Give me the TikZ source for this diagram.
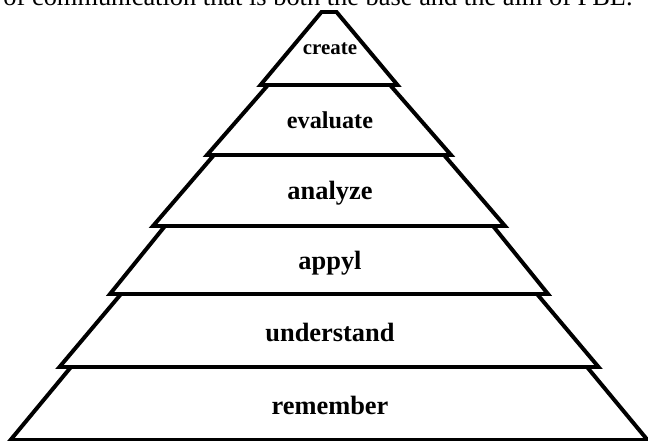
\documentclass[tikz,border=0pt]{standalone}
\usepackage{fontspec}
\setmainfont{Liberation Serif}
\tikzset{
  layer/.style = {line width=1.8pt, line join=miter},
  level/.style = {font=\fontsize{12}{14}\selectfont\bfseries, inner sep=0pt, anchor=base}
}

\begin{document}
\begin{tikzpicture}[x=0.4545pt,y=-0.4545pt]
  \useasboundingbox (0,0) rectangle (648,441);
  \clip (0,0) rectangle (648,441);
  % line of text above, cut by the page edge
  \node[anchor=base west,inner sep=0pt,font=\fontsize{12}{14}\selectfont] (caption) at (3,6)
    {of communication that is both the base and the aim of PBL.};
  % layers, bottom to top
  \draw[layer] (10.5,440) -- (647.5,440) -- (587,367) -- (71,367) -- cycle;
  \draw[layer] (59.5,367) -- (598.5,367) -- (537,294) -- (121,294) -- cycle;
  \draw[layer] (110,294) -- (548,294) -- (493,226) -- (165,226) -- cycle;
  \draw[layer] (153,226) -- (505,226) -- (444,155) -- (214,155) -- cycle;
  \draw[layer] (207,155) -- (451,155) -- (390,85) -- (268,85) -- cycle;
  \draw[layer] (260.5,85) -- (397.5,85) -- (336.5,12) -- (321.5,12) -- cycle;
  % labels
  \node[level] (remember) at (330,414) {remember};
  \node[level] (understand) at (330,342) {understand};
  \node[level] (appyl) at (330,270) {appyl};
  \node[level] (analyze) at (330,200) {analyze};
  \node[level,font=\fontsize{11}{13}\selectfont\bfseries] (evaluate) at (330,129) {evaluate};
  \node[level,font=\fontsize{9.5}{11}\selectfont\bfseries] (create) at (330,55) {create};
\end{tikzpicture}
\end{document}
